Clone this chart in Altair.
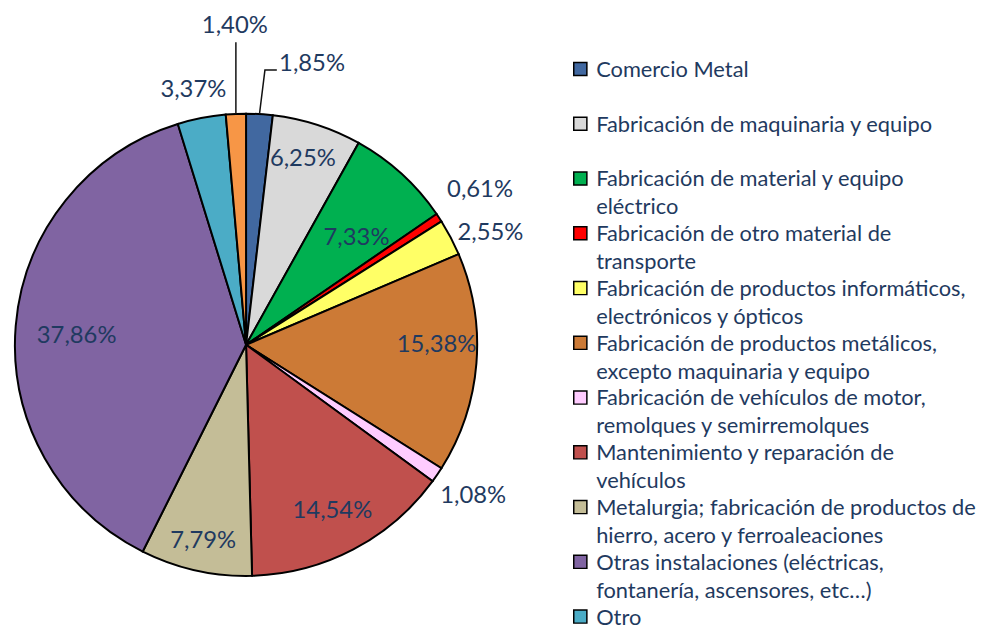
import math
import altair as alt
import pandas as pd

# ---- data ----
categories = [
    "Comercio Metal",
    "Fabricación de maquinaria y equipo",
    "Fabricación de material y equipo eléctrico",
    "Fabricación de otro material de transporte",
    "Fabricación de productos informáticos, electrónicos y ópticos",
    "Fabricación de productos metálicos, excepto maquinaria y equipo",
    "Fabricación de vehículos de motor, remolques y semirremolques",
    "Mantenimiento y reparación de vehículos",
    "Metalurgia; fabricación de productos de hierro, acero y ferroaleaciones",
    "Otras instalaciones (eléctricas, fontanería, ascensores, etc…)",
    "Otro",
    "Resto",
]
values = [1.85, 6.25, 7.33, 0.61, 2.55, 15.38, 1.08, 14.54, 7.79, 37.86, 3.37, 1.40]
value_labels = ["1,85%", "6,25%", "7,33%", "0,61%", "2,55%", "15,38%",
                "1,08%", "14,54%", "7,79%", "37,86%", "3,37%", "1,40%"]
colors = ["#4168A0", "#D9D9D9", "#00B050", "#FF0000", "#FFFF66", "#CC7A36",
          "#FFCCFF", "#C0504D", "#C4BD97", "#8064A2", "#4BACC6", "#F79646"]
legend_labels = [
    "Comercio Metal",
    "Fabricación de maquinaria y equipo",
    "Fabricación de material y equipo\neléctrico",
    "Fabricación de otro material de\ntransporte",
    "Fabricación de productos informáticos,\nelectrónicos y ópticos",
    "Fabricación de productos metálicos,\nexcepto maquinaria y equipo",
    "Fabricación de vehículos de motor,\nremolques y semirremolques",
    "Mantenimiento y reparación de\nvehículos",
    "Metalurgia; fabricación de productos de\nhierro, acero y ferroaleaciones",
    "Otras instalaciones (eléctricas,\nfontanería, ascensores, etc…)",
    "Otro",
]

# ---- layout ----
CX, CY, R = 240, 337, 233
TXT = "#1F3A60"
FONT = "Lato"
# label placement: angle offset from slice middle (deg) and radius as fraction of R
label_dang = [9.9, -0.9, 3.6, -0.2, 3.1, -4.6, -0.6, 0.2, -0.2, -1.7, -0.6, 0.5]
label_rf = [1.248, 0.84, 0.665, 1.215, 1.163, 0.824, 1.18, 0.81, 0.87, 0.734, 1.124, 1.38]

df = pd.DataFrame({"cat": categories, "value": values, "label": value_labels,
                   "idx": list(range(len(values)))})
total = sum(values)
cum = df["value"].cumsum() - df["value"] / 2
df["mid"] = cum / total * 2 * math.pi
ang = df["mid"] + pd.Series(label_dang) * math.pi / 180
rad = pd.Series(label_rf) * R
df["lx"] = CX + rad * ang.apply(math.sin)
df["ly"] = CY - rad * ang.apply(math.cos)

# leader lines (1,85% and 1,40%)
rows = []
for i, elbow_dy, elbow_dx, ext in [(0, -277, 5.5, 12), (11, -305, 0, 0)]:
    a = df.loc[i, "mid"]
    x0 = CX + R * math.sin(a)
    y0 = CY - R * math.cos(a)
    pts = [(x0, y0), (x0 + elbow_dx, CY + elbow_dy)]
    if ext:
        pts.append((x0 + elbow_dx + ext, CY + elbow_dy))
    for k, (x, y) in enumerate(pts):
        rows.append({"g": i, "k": k, "x": x, "y": y})
leader = pd.DataFrame(rows)

leg = pd.DataFrame({"text": legend_labels, "color": colors[:len(legend_labels)],
                    "i": list(range(len(legend_labels)))})
leg["y"] = 59 + 55.2 * leg["i"]

pie = alt.Chart(df).mark_arc(radius=R, stroke="black", strokeWidth=2).encode(
    theta=alt.Theta("value:Q", stack=True),
    color=alt.Color("cat:N", scale=alt.Scale(domain=categories, range=colors), legend=None),
    order=alt.Order("idx:Q"),
    x=alt.value(CX), y=alt.value(CY),
)

labels = alt.Chart(df).mark_text(font=FONT, fontSize=24, color=TXT,
                                 align="center", baseline="middle").encode(
    x=alt.X("lx:Q", scale=None), y=alt.Y("ly:Q", scale=None), text="label:N",
)

lines = alt.Chart(leader).mark_line(color="#111111", strokeWidth=1.5).encode(
    x=alt.X("x:Q", scale=None), y=alt.Y("y:Q", scale=None),
    detail="g:N", order="k:Q",
)

squares = alt.Chart(leg).mark_square(size=175, stroke="black", strokeWidth=1.5,
                                     opacity=1).encode(
    x=alt.value(577), y=alt.Y("y:Q", scale=None),
    fill=alt.Fill("color:N", scale=None),
)

legtext = alt.Chart(leg).mark_text(font=FONT, fontSize=22, color=TXT, align="left",
                                   baseline="alphabetic", lineBreak="\n",
                                   lineHeight=28, dy=8).encode(
    x=alt.value(593), y=alt.Y("y:Q", scale=None), text="text:N",
)

chart = alt.layer(pie, lines, labels, squares, legtext).properties(
    width=984, height=620, padding=0
).configure_view(strokeWidth=0)

chart.save("out.html", embed_options={"renderer": "svg", "actions": False})
